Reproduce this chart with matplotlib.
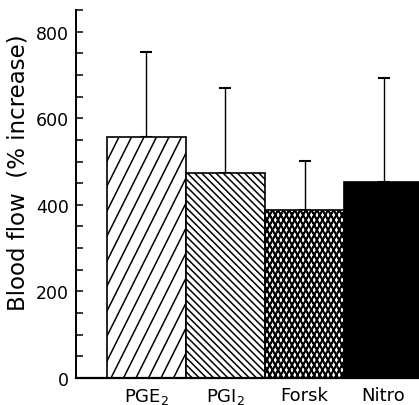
import numpy as np
import matplotlib
matplotlib.use("Agg")
import matplotlib.pyplot as plt
import matplotlib.hatch as mhatch
from matplotlib.path import Path
from matplotlib.ticker import MultipleLocator

categories = [r"PGE$_\mathregular{2}$", r"PGI$_\mathregular{2}$", "Forsk", "Nitro"]
means = [557, 474, 388, 453]
errors = [197, 196, 114, 241]
hatches = ["/", "\\", "x", ""]
fills = ["white", "white", "white", "black"]


# hatch styles like the print: steep wide lines, 45 deg dense lines, tall diamond mesh
# (sign, dx per dy, spacing, extra offsets to thicken) in units of the hatch tile
STYLES = {
    "/": [(1, 0.5, 1 / 8, [0.0])],
    "\\": [(-1, 1.0, 1 / 14, [0.0])],
    "x": [(1, 10 / 18, 1 / 18, [0.0, 0.006]), (-1, 10 / 18, 1 / 18, [0.0, 0.006])],
}


class PrintHatch(mhatch.HatchPatternBase):
    def __init__(self, hatch, density):
        self.segs = []
        for ch, specs in STYLES.items():
            if ch in hatch:
                for sgn, k, s, offs in specs:
                    for c in np.arange(-2.0, 3.0 + 1e-9, s):
                        for o in offs:
                            self.segs.append(((c + o, 0.0), (c + o + sgn * k, 1.0)))
        self.num_vertices = 2 * len(self.segs)

    def set_vertices_and_codes(self, vertices, codes):
        for i, (a, b) in enumerate(self.segs):
            vertices[2 * i] = a
            vertices[2 * i + 1] = b
            codes[2 * i] = Path.MOVETO
            codes[2 * i + 1] = Path.LINETO


mhatch._hatch_types[:] = [PrintHatch]

plt.rcParams['font.family'] = ['DejaVu Sans']
plt.rcParams['hatch.linewidth'] = 1.1
plt.rcParams['path.simplify'] = False

dpi = 100
fig = plt.figure(figsize=(419 / dpi, 406 / dpi), dpi=dpi)
ax = fig.add_axes([76 / 419, 27 / 406, 343 / 419, 368 / 406])

x = list(range(len(categories)))
ax.bar(x, means, width=1.0, color=fills, edgecolor="black", linewidth=1.2, zorder=2)
for b, h in zip(ax.patches, hatches):
    b.set_hatch(h)
ax.errorbar(x, means, yerr=[[0] * len(errors), errors], fmt="none",
            ecolor="black", elinewidth=1.0, capsize=4, capthick=1.5, zorder=1)

ax.set_xlim(-0.892, 3.449)
ax.set_ylim(0, 850)
ax.yaxis.set_major_locator(MultipleLocator(200))
ax.yaxis.set_minor_locator(MultipleLocator(50))
ax.tick_params(axis="y", which="both", direction="in", length=5, width=1.1,
               labelsize=12.5, pad=5)
ax.set_xticks(x)
ax.set_xticklabels(categories)
ax.tick_params(axis="x", length=0, labelsize=13, pad=6)

for s in ["top", "right"]:
    ax.spines[s].set_visible(False)
ax.spines["left"].set_linewidth(1.4)
ax.spines["bottom"].set_linewidth(1.6)

ax.set_ylabel("Blood flow  (% increase)", fontsize=16.5)
ax.yaxis.set_label_coords(-0.135, 0.56)

fig.savefig("out.png", dpi=dpi)
